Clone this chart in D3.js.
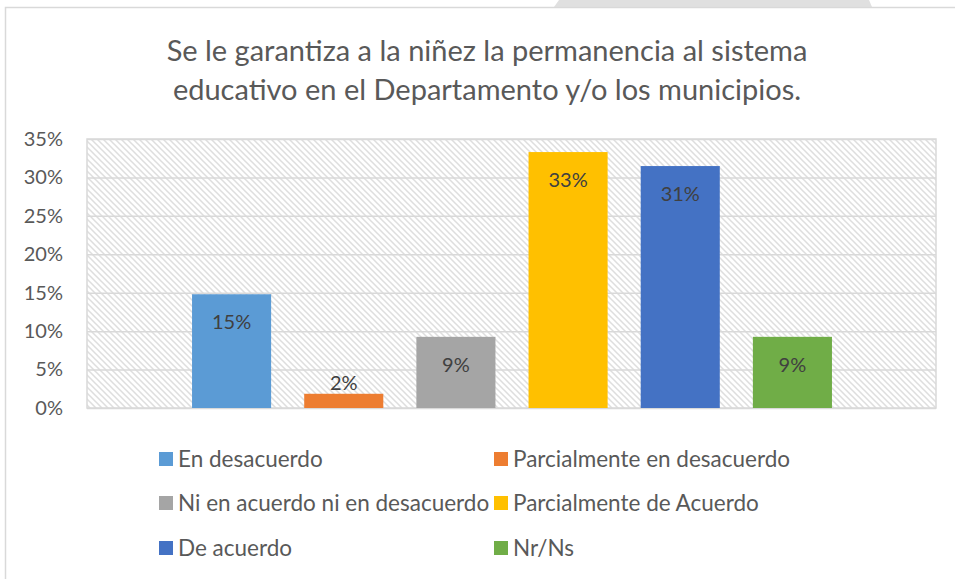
<!DOCTYPE html>
<html>
<head>
<meta charset="utf-8">
<script src="https://cdn.jsdelivr.net/npm/d3@7"></script>
<style>
body { margin: 0; background: #ffffff; }
text { font-family: Lato, "Open Sans", sans-serif; }
</style>
</head>
<body>
<div id="chart"></div>
<script>
let categories = ["En desacuerdo","Parcialmente en desacuerdo","Ni en acuerdo ni en desacuerdo","Parcialmente de Acuerdo","De acuerdo","Nr/Ns"];
let values = [0.148, 0.0185, 0.0926, 0.333, 0.3148, 0.0926];
let colors = ["#5b9bd5","#ed7d31","#a5a5a5","#ffc000","#4472c4","#70ad47"];
let tickValues = [0, 0.05, 0.10, 0.15, 0.20, 0.25, 0.30, 0.35];
let titleLines = ["Se le garantiza a la niñez la permanencia al sistema","educativo en el Departamento y/o los municipios."];

let width = 955;
let height = 579;
let plotLeft = 87;
let plotRight = 936;
let plotTop = 139;
let plotBottom = 408;
let gridColor = "#d9d9d9";
let textColor = "#595959";

let svg = d3.select("#chart")
    .append("svg")
    .attr("width", width)
    .attr("height", height);

// fondo rayado del area de trazado
let defs = svg.append("defs");
let pattern = defs.append("pattern")
    .attr("id", "hatch")
    .attr("patternUnits", "userSpaceOnUse")
    .attr("width", 6)
    .attr("height", 6);
pattern.append("rect").attr("width", 6).attr("height", 6).attr("fill", "#ffffff");
pattern.append("path")
    .attr("d", "M-1,-1L7,7M-4,2L1,7M2,-4L7,1")
    .attr("stroke", "#dedede")
    .attr("stroke-width", 1.5);

svg.append("rect")
    .attr("width", width)
    .attr("height", height)
    .attr("fill", "#ffffff");

// pestaña gris arriba y borde del grafico
svg.append("polygon")
    .attr("points", "559,0 869,0 872,7 554,7")
    .attr("fill", "#e0e0e0");
svg.append("path")
    .attr("d", "M5.5," + height + "V7.5H" + width)
    .attr("fill", "none")
    .attr("stroke", gridColor)
    .attr("stroke-width", 1.5);

// titulo
svg.append("g")
    .selectAll("text")
    .data(titleLines)
    .join("text")
    .attr("x", 487)
    .attr("y", (d, i) => 61 + i * 39)
    .attr("text-anchor", "middle")
    .attr("font-size", 29)
    .attr("fill", textColor)
    .text(d => d);

let x = d3.scaleBand()
    .domain(categories)
    .range([175.5, 848.5])
    .paddingInner(0.295)
    .paddingOuter(0.1475);

let y = d3.scaleLinear()
    .domain([0, 0.35])
    .range([plotBottom, plotTop]);

svg.append("rect")
    .attr("x", plotLeft)
    .attr("y", plotTop)
    .attr("width", plotRight - plotLeft)
    .attr("height", plotBottom - plotTop)
    .attr("fill", "url(#hatch)")
    .attr("stroke", gridColor)
    .attr("stroke-width", 1.5);

// lineas de la cuadricula
let grid = svg.append("g")
    .attr("transform", "translate(" + plotLeft + ",0)")
    .call(d3.axisLeft(y).tickValues(tickValues).tickSize(-(plotRight - plotLeft)).tickFormat(""));
grid.select(".domain").remove();
grid.selectAll("line").attr("stroke", gridColor).attr("stroke-width", 1.5);

// eje y
let yAxis = svg.append("g")
    .attr("transform", "translate(" + plotLeft + ",0)")
    .call(d3.axisLeft(y).tickValues(tickValues).tickFormat(d3.format(".0%")).tickSize(0).tickPadding(24));
yAxis.select(".domain").remove();
yAxis.selectAll("text")
    .attr("font-size", 20)
    .attr("font-family", "Lato, sans-serif")
    .attr("fill", textColor);

// barras
svg.append("g")
    .selectAll("rect")
    .data(values)
    .join("rect")
    .attr("x", (d, i) => x(categories[i]))
    .attr("y", d => y(d))
    .attr("width", x.bandwidth())
    .attr("height", d => plotBottom - y(d))
    .attr("fill", (d, i) => colors[i]);

// etiquetas de datos
svg.append("g")
    .selectAll("text")
    .data(values)
    .join("text")
    .attr("x", (d, i) => x(categories[i]) + x.bandwidth() / 2)
    .attr("y", d => (plotBottom - y(d) > 40 ? y(d) + 35 : y(d) - 4))
    .attr("text-anchor", "middle")
    .attr("font-size", 20)
    .attr("fill", "#404040")
    .text(d => d3.format(".0%")(d));

// leyenda
let legendX = [159, 494];
let legendY = [459, 503, 548];
let legend = svg.append("g")
    .selectAll("g")
    .data(categories)
    .join("g")
    .attr("transform", (d, i) => "translate(" + legendX[i % 2] + "," + legendY[Math.floor(i / 2)] + ")");
legend.append("rect")
    .attr("x", 0)
    .attr("y", -7)
    .attr("width", 14)
    .attr("height", 14)
    .attr("fill", (d, i) => colors[i]);
legend.append("text")
    .attr("x", 19)
    .attr("y", 8)
    .attr("font-size", 22.5)
    .attr("fill", textColor)
    .text(d => d);
</script>
</body>
</html>
